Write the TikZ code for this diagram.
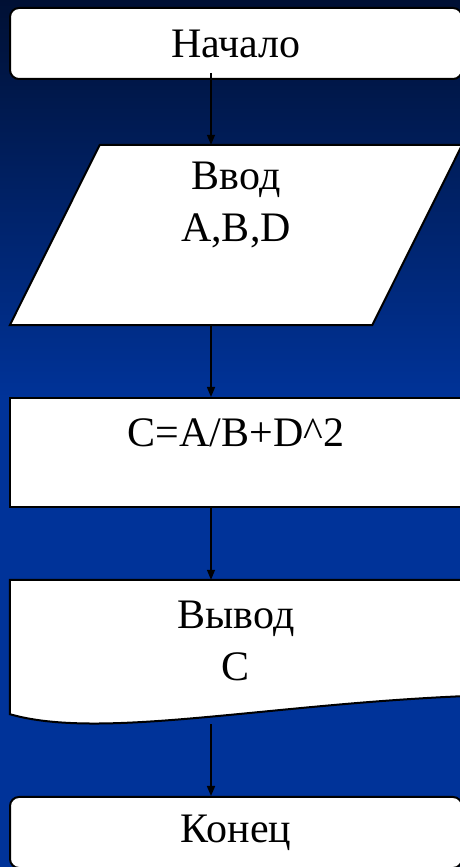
\documentclass[tikz,border=0pt]{standalone}
\usepackage{fontspec}
\setmainfont{Liberation Serif}
\usetikzlibrary{shapes.geometric, positioning, arrows.meta}

\definecolor{topnavy}{RGB}{0,16,52}
\definecolor{slideblue}{RGB}{0,51,153}

\begin{document}
\begin{tikzpicture}[x=1pt, y=1pt,
	term/.style={draw=black, line width=2pt, fill=white, rounded corners=9pt, minimum width=452pt, minimum height=71pt, inner sep=0pt},
	proc/.style={draw=black, line width=2pt, fill=white, minimum width=452pt, minimum height=109pt, inner sep=0pt},
	frame/.style={minimum width=452pt, inner sep=0pt},
	outline/.style={draw=black, line width=2pt, fill=white},
	txt/.style={align=center, font=\fontsize{42}{52}\selectfont, text=black},
	flow/.style={-{Triangle[length=10pt,width=8pt]}, line width=1.5pt}]
		
		% Background
		\useasboundingbox (0,0) rectangle (460,867);
		\clip (0,0) rectangle (460,867);
		\fill[slideblue] (0,0) rectangle (460,467);
		\shade[top color=topnavy, bottom color=slideblue] (0,467) rectangle (460,867);
		
		% Blocks
		\node[term, txt] (start) at (236,823.5) {Начало};
		\node[frame, minimum height=180pt] (input) at (236,632) {};
		\draw[outline] ([xshift=90pt]input.north west) -- (input.north east) -- ([xshift=-90pt]input.south east) -- (input.south west) -- cycle;
		\node[txt] (inputtext) at (236,662) {Ввод\\A,B,D};
		\node[proc] (calc) at (236,414.5) {};
		\node[txt] (calctext) at (236,434) {C=A/B+D\textasciicircum 2};
		\node[frame, minimum height=134pt] (output) at (236,220) {};
		\draw[outline] (output.north west) -- (output.north east) -- ([yshift=18pt]output.south east) .. controls (260,162) and (100,127) .. (output.south west) -- cycle;
		\node[txt] (outputtext) at (236,226) {Вывод\\C};
		\node[term, txt] (stop) at (236,34.5) {Конец};
		
		% Arrows between blocks
		\draw[flow] ([xshift=-25pt,yshift=7pt]start.south) -- ([xshift=-25pt]input.north);
		\draw[flow] ([xshift=-25pt]input.south) -- ([xshift=-25pt]calc.north);
		\draw[flow] ([xshift=-25pt]calc.south) -- ([xshift=-25pt]output.north);
		\draw[flow] ([xshift=-25pt,yshift=-10pt]output.south) -- ([xshift=-25pt]stop.north);
		
	\end{tikzpicture}
\end{document}
